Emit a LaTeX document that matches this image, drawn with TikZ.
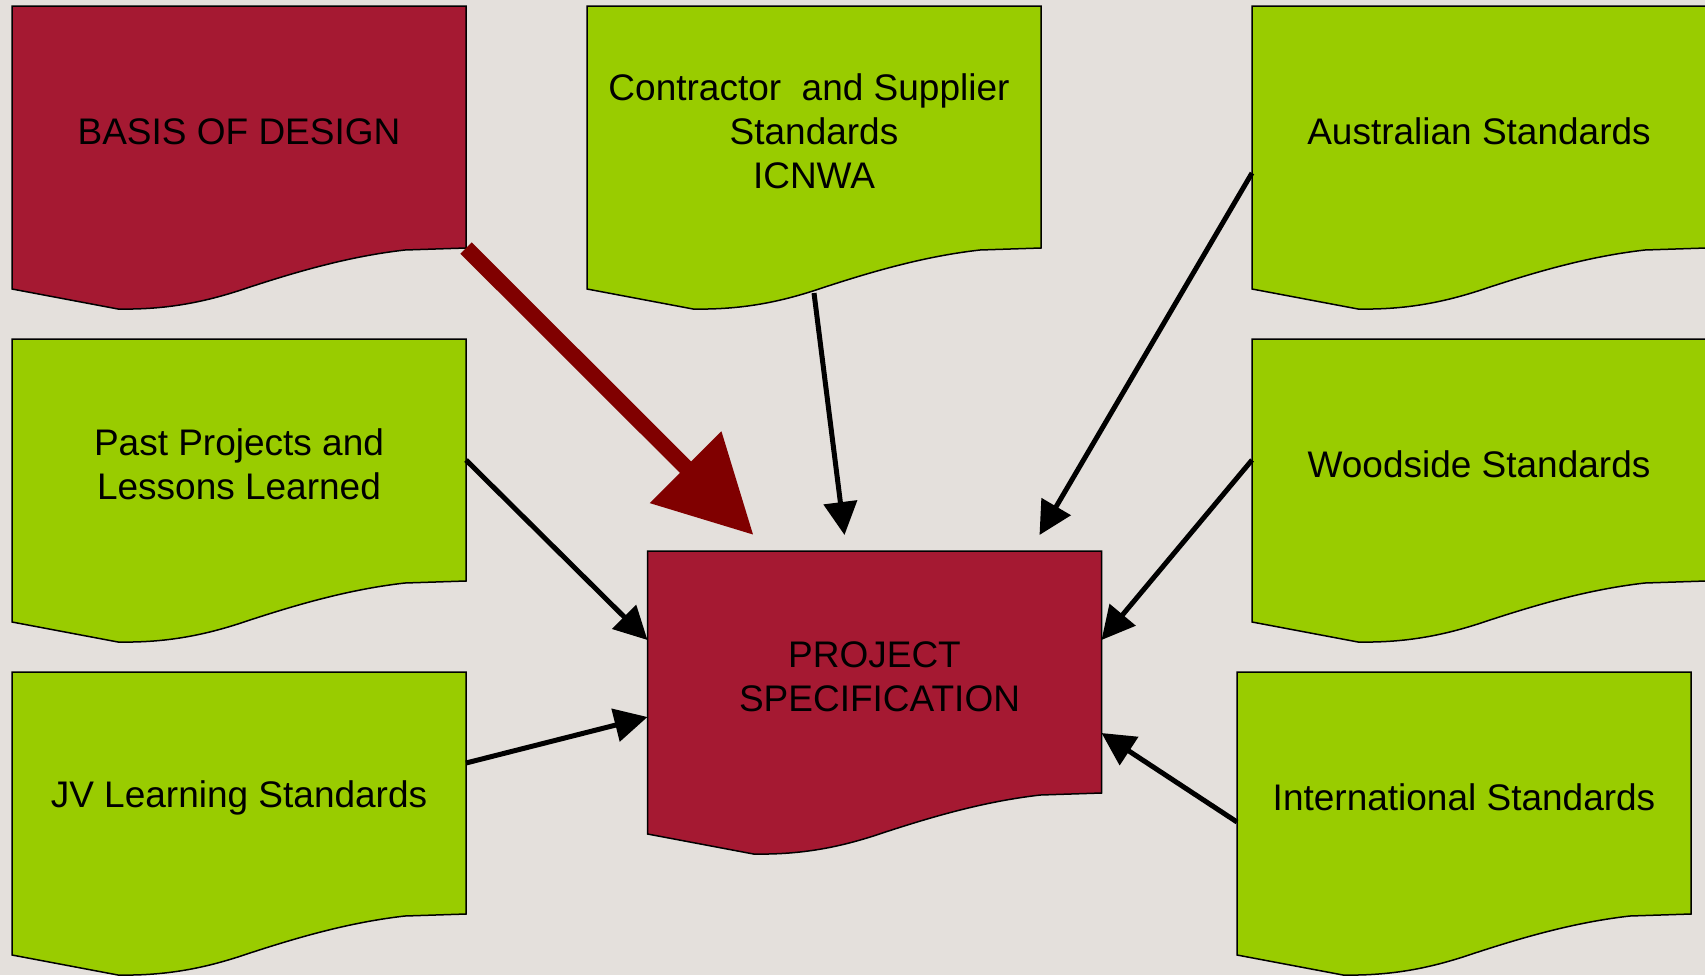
\documentclass[tikz,border=0pt]{standalone}
\usepackage{fontspec}
\setmainfont{Liberation Sans}
\usetikzlibrary{arrows.meta,calc,backgrounds}
\definecolor{bgc}{RGB}{228,224,220}
\definecolor{docred}{RGB}{165,25,50}
\definecolor{docgreen}{RGB}{153,204,0}
\definecolor{arrred}{RGB}{128,0,0}
\tikzset{
  docbox/.style={rectangle, minimum width=454pt, minimum height=242pt, inner sep=0pt, outer sep=0pt},
  doctext/.style={inner sep=0pt, align=center, font=\fontsize{37}{44}\selectfont},
  docline/.style={draw=black, line width=1.5pt},
  conn/.style={draw=black, line width=5pt, -{Triangle[length=33pt,width=33pt]}},
  bigconn/.style={draw=arrred, line width=16pt, -{Triangle[length=96pt,width=97pt]}}
}
\newcommand\docshape[2]{%
  \path[docline, fill=#2] (#1.north west) -- (#1.north east) -- (#1.south east)
   -- ($(#1.south west)+(393,2)$)
   .. controls ($(#1.south west)+(340,8)$) and ($(#1.south west)+(290,22)$) .. ($(#1.south west)+(238,39)$)
   .. controls ($(#1.south west)+(200,52)$) and ($(#1.south west)+(160,62)$) .. ($(#1.south west)+(106,61)$)
   -- ($(#1.south west)+(0,41)$) -- cycle;}
\begin{document}
\begin{tikzpicture}[x=1pt,y=-1pt]
\useasboundingbox (0,0) rectangle (1705,975);
\node[docbox] (bod) at (239,127) {};
\node[docbox] (con) at (814,127) {};
\node[docbox] (aus) at (1479,127) {};
\node[docbox] (pp) at (239,460) {};
\node[docbox] (wood) at (1479,460) {};
\node[docbox] (jv) at (239,793) {};
\node[docbox] (intl) at (1464,793) {};
\node[docbox] (ps) at (874.5,672) {};
\begin{pgfonlayer}{background}
\fill[bgc] (0,0) rectangle (1705,975);
\docshape{bod}{docred}
\docshape{con}{docgreen}
\docshape{aus}{docgreen}
\docshape{pp}{docgreen}
\docshape{wood}{docgreen}
\docshape{jv}{docgreen}
\docshape{intl}{docgreen}
\docshape{ps}{docred}
\end{pgfonlayer}
\node[doctext] (bodt) at ($(bod.center)+(0,4.5)$) {BASIS OF DESIGN};
\node[doctext] (cont) at ($(con.center)+(0,4.5)$) {Contractor~ and Supplier\hspace*{10pt}\\Standards\\ICNWA};
\node[doctext] (aust) at ($(aus.center)+(0,4.5)$) {Australian Standards};
\node[doctext] (ppt) at ($(pp.center)+(0,4.5)$) {Past Projects and\\Lessons Learned};
\node[doctext] (woodt) at ($(wood.center)+(0,4.5)$) {Woodside Standards};
\node[doctext] (jvt) at ($(jv.center)+(0,4.5)$) {JV Learning Standards};
\node[doctext] (intlt) at ($(intl.center)+(0,4.5)$) {International Standards};
\node[doctext] (pst) at ($(ps.center)+(0,4.5)$) {PROJECT\\\hspace*{10pt}SPECIFICATION};
\coordinate (bodout) at (bod.south east);
\coordinate (conout) at ($(con.south)+(0,45)$);
\coordinate (ausout) at ($(aus.west)+(0,46)$);
\coordinate (jvout) at ($(jv.east)+(0,-30)$);
\coordinate (intlout) at ($(intl.west)+(0,29)$);
\coordinate (psin1) at ($(ps.north west)+(106,-16)$);
\coordinate (psin2) at ($(ps.north)+(-30,-16)$);
\coordinate (psin3) at ($(ps.north east)+(-62,-16)$);
\coordinate (psin4) at ($(ps.west)+(0,-32)$);
\coordinate (psin5) at ($(ps.west)+(0,45)$);
\coordinate (psin6) at ($(ps.east)+(0,-32)$);
\coordinate (psin7) at ($(ps.east)+(0,61)$);
\draw[bigconn] (bodout) -- (psin1);
\draw[conn] (conout) -- (psin2);
\draw[conn] (ausout) -- (psin3);
\draw[conn] (pp.east) -- (psin4);
\draw[conn] (jvout) -- (psin5);
\draw[conn] (wood.west) -- (psin6);
\draw[conn] (intlout) -- (psin7);
\end{tikzpicture}
\end{document}
